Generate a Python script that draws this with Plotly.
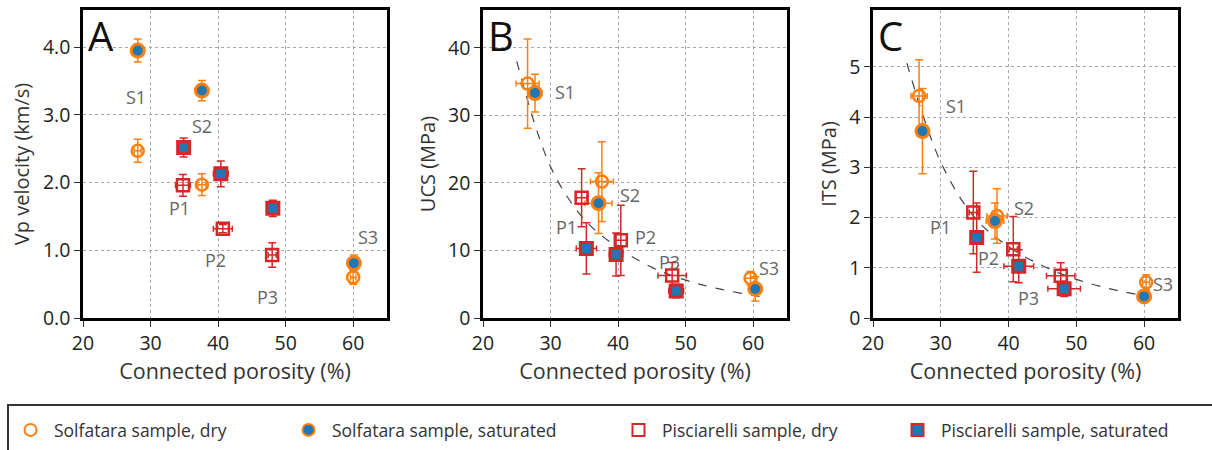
import plotly.graph_objects as go

# ---------------- DATA ----------------
# Panel A: Vp velocity (km/s)
A_sol_dry_x = [28.1, 37.6, 60.0]
A_sol_dry_y = [2.47, 1.97, 0.60]
A_sol_dry_xerr = [0.5, 0.6, 0.4]
A_sol_dry_yerr = [0.17, 0.16, 0.10]
A_sol_sat_x = [28.1, 37.6, 60.1]
A_sol_sat_y = [3.95, 3.36, 0.81]
A_sol_sat_xerr = [0.5, 0.6, 0.4]
A_sol_sat_yerr = [0.17, 0.15, 0.12]
A_pis_dry_x = [34.8, 40.7, 48.0]
A_pis_dry_y = [1.96, 1.32, 0.93]
A_pis_dry_xerr = [1.1, 1.4, 0.6]
A_pis_dry_yerr = [0.16, 0.06, 0.18]
A_pis_sat_x = [34.9, 40.4, 48.1]
A_pis_sat_y = [2.52, 2.13, 1.62]
A_pis_sat_xerr = [0.6, 1.1, 0.8]
A_pis_sat_yerr = [0.14, 0.19, 0.12]

# Panel B: UCS (MPa)
B_sol_dry_x = [26.6, 37.6, 59.6]
B_sol_dry_y = [34.7, 20.2, 5.9]
B_sol_dry_xerr = [1.7, 1.7, 0.8]
B_sol_dry_yerr = [6.6, 5.9, 1.0]
B_sol_sat_x = [27.7, 37.1, 60.3]
B_sol_sat_y = [33.3, 17.0, 4.3]
B_sol_sat_xerr = [1.0, 2.0, 0.9]
B_sol_sat_yerr = [2.8, 4.5, 1.8]
B_pis_dry_x = [34.6, 40.4, 48.0]
B_pis_dry_y = [17.8, 11.5, 6.3]
B_pis_dry_xerr = [0.8, 0.9, 2.1]
B_pis_dry_yerr = [4.3, 5.2, 1.9]
B_pis_sat_x = [35.3, 39.7, 48.6]
B_pis_sat_y = [10.3, 9.4, 4.0]
B_pis_sat_xerr = [1.5, 1.0, 1.1]
B_pis_sat_yerr = [3.8, 3.2, 1.0]

# Panel C: ITS (MPa)
C_sol_dry_x = [26.8, 38.3, 60.3]
C_sol_dry_y = [4.42, 2.03, 0.71]
C_sol_dry_xerr = [1.2, 1.5, 0.5]
C_sol_dry_yerr = [0.72, 0.54, 0.15]
C_sol_sat_x = [27.3, 38.0, 60.0]
C_sol_sat_y = [3.72, 1.93, 0.43]
C_sol_sat_xerr = [0.9, 1.3, 0.5]
C_sol_sat_yerr = [0.85, 0.36, 0.05]
C_pis_dry_x = [34.8, 40.7, 47.7]
C_pis_dry_y = [2.10, 1.37, 0.84]
C_pis_dry_xerr = [0.6, 0.6, 2.1]
C_pis_dry_yerr = [0.82, 0.65, 0.26]
C_pis_sat_x = [35.3, 41.5, 48.2]
C_pis_sat_y = [1.60, 1.03, 0.58]
C_pis_sat_xerr = [0.8, 2.2, 2.4]
C_pis_sat_yerr = [0.69, 0.33, 0.15]

# Fit curves
fit_B_x = [25, 30, 35, 40, 45, 50, 55, 62]
fit_B_y = [38.0, 22.4, 14.6, 10.4, 7.5, 5.6, 4.3, 3.0]
fit_C_x = [25, 30, 35, 40, 45, 50, 55, 60]
fit_C_y = [5.07, 3.10, 2.00, 1.42, 1.04, 0.77, 0.58, 0.44]

# Sample labels
lab_names = ["S1", "S2", "S3", "P1", "P2", "P3"]
A_lab_x = [27.8, 37.6, 62.2, 34.3, 39.6, 47.3]
A_lab_y = [3.27, 2.83, 1.20, 1.62, 0.86, 0.31]
B_lab_x = [32.1, 41.8, 62.3, 32.3, 44.0, 47.6]
B_lab_y = [33.4, 18.2, 7.4, 13.5, 12.0, 8.3]
C_lab_x = [32.2, 42.3, 62.8, 29.9, 37.0, 42.9]
C_lab_y = [4.21, 2.18, 0.67, 1.81, 1.20, 0.40]

series_names = ["Solfatara sample, dry", "Solfatara sample, saturated",
                "Pisciarelli sample, dry", "Pisciarelli sample, saturated"]
x_ticks = [20, 30, 40, 50, 60]
A_yticks = [0, 1, 2, 3, 4]
B_yticks = [0, 10, 20, 30, 40]
C_yticks = [0, 1, 2, 3, 4, 5]

# ---------------- STYLE ----------------
ORANGE = "#ff7f0e"
BLUE = "#1f77b4"
RED = "#d62728"
FONT = "Open Sans"
W, H = 1212, 450

fig = go.Figure()

styles = [
    dict(symbol="circle", color="rgba(0,0,0,0)", line=ORANGE, lw=2.5, size=12),
    dict(symbol="circle", color=BLUE, line=ORANGE, lw=3, size=13),
    dict(symbol="square", color="rgba(0,0,0,0)", line=RED, lw=2.5, size=12),
    dict(symbol="square", color=BLUE, line=RED, lw=3, size=12),
]

panels = [
    ("x", "y", [
        (A_sol_dry_x, A_sol_dry_y, A_sol_dry_xerr, A_sol_dry_yerr),
        (A_sol_sat_x, A_sol_sat_y, A_sol_sat_xerr, A_sol_sat_yerr),
        (A_pis_dry_x, A_pis_dry_y, A_pis_dry_xerr, A_pis_dry_yerr),
        (A_pis_sat_x, A_pis_sat_y, A_pis_sat_xerr, A_pis_sat_yerr)]),
    ("x2", "y2", [
        (B_sol_dry_x, B_sol_dry_y, B_sol_dry_xerr, B_sol_dry_yerr),
        (B_sol_sat_x, B_sol_sat_y, B_sol_sat_xerr, B_sol_sat_yerr),
        (B_pis_dry_x, B_pis_dry_y, B_pis_dry_xerr, B_pis_dry_yerr),
        (B_pis_sat_x, B_pis_sat_y, B_pis_sat_xerr, B_pis_sat_yerr)]),
    ("x3", "y3", [
        (C_sol_dry_x, C_sol_dry_y, C_sol_dry_xerr, C_sol_dry_yerr),
        (C_sol_sat_x, C_sol_sat_y, C_sol_sat_xerr, C_sol_sat_yerr),
        (C_pis_dry_x, C_pis_dry_y, C_pis_dry_xerr, C_pis_dry_yerr),
        (C_pis_sat_x, C_pis_sat_y, C_pis_sat_xerr, C_pis_sat_yerr)]),
]

# fit curves first (under markers)
fig.add_trace(go.Scatter(x=fit_B_x, y=fit_B_y, xaxis="x2", yaxis="y2", mode="lines",
                         line=dict(color="#444", width=1.2, dash="dash", shape="spline"),
                         showlegend=False, hoverinfo="skip"))
fig.add_trace(go.Scatter(x=fit_C_x, y=fit_C_y, xaxis="x3", yaxis="y3", mode="lines",
                         line=dict(color="#444", width=1.2, dash="dash", shape="spline"),
                         showlegend=False, hoverinfo="skip"))

legend_ids = ["legend", "legend2", "legend3", "legend4"]
for pi, (xa, ya, series) in enumerate(panels):
    for si, (sx, sy, sxe, sye) in enumerate(series):
        st = styles[si]
        fig.add_trace(go.Scatter(
            x=sx, y=sy, xaxis=xa, yaxis=ya, mode="markers",
            name=series_names[si],
            legend=legend_ids[si],
            showlegend=(pi == 0),
            marker=dict(symbol=st["symbol"], size=st["size"], color=st["color"],
                        line=dict(color=st["line"], width=st["lw"])),
            error_x=dict(type="data", array=sxe, visible=True, color=st["line"],
                         thickness=1.5, width=3),
            error_y=dict(type="data", array=sye, visible=True, color=st["line"],
                         thickness=1.5, width=4),
        ))

# ---------------- AXES ----------------
ybot = 1 - 318 / H
ytop = 1 - 10 / H
xdoms = [(83 / W, 387 / W), (483 / W, 787 / W), (873 / W, 1178 / W)]
yranges = [(0, 4.55), (0, 45.6), (0, 6.13)]
ytitles = ["Vp velocity (km/s)", "UCS (MPa)", "ITS (MPa)"]
yticks = [A_yticks, B_yticks, C_yticks]
yfmt = [".1f", "d", "d"]

axis_common = dict(
    showline=True, linecolor="black", linewidth=2.5, mirror=True,
    ticks="outside", ticklen=6, tickwidth=1.3, tickcolor="#333",
    showgrid=True, gridcolor="#a8a8a8", griddash="dot", gridwidth=1,
    zeroline=False, automargin=False,
    tickfont=dict(family=FONT, size=19.5, color="#222"),
)

layout_axes = {}
for i in range(3):
    sfx = "" if i == 0 else str(i + 1)
    layout_axes["xaxis" + sfx] = dict(
        axis_common, domain=list(xdoms[i]), range=[20, 65],
        tickmode="array", tickvals=x_ticks,
        anchor="y" + sfx,
        title=dict(text="Connected porosity (%)", font=dict(family=FONT, size=21.5, color="#333"),
                   standoff=8),
    )
    layout_axes["yaxis" + sfx] = dict(
        axis_common, domain=[ybot, ytop], range=list(yranges[i]),
        tickmode="array", tickvals=yticks[i], tickformat=yfmt[i],
        anchor="x" + sfx,
        title=dict(text=ytitles[i], font=dict(family=FONT, size=20, color="#333"),
                   standoff=8),
    )

# ---------------- ANNOTATIONS ----------------
annotations = []
for sfx, lx, ly in [("", A_lab_x, A_lab_y), ("2", B_lab_x, B_lab_y), ("3", C_lab_x, C_lab_y)]:
    for name, xx, yy in zip(lab_names, lx, ly):
        annotations.append(dict(x=xx, y=yy, xref="x" + sfx, yref="y" + sfx, text=name,
                                showarrow=False, font=dict(family=FONT, size=18, color="#666"),
                                xanchor="center", yanchor="middle"))

for letter, xl in zip(["A", "B", "C"], [xdoms[0][0], xdoms[1][0], xdoms[2][0]]):
    annotations.append(dict(x=xl + 3 / W, y=ytop + 4 / H, xref="paper", yref="paper",
                            text=letter, showarrow=False, xanchor="left", yanchor="top",
                            font=dict(family=FONT, size=40, color="#111")))

# ---------------- LEGEND ----------------
sym_x = [27, 305, 635, 914]
legends = {}
for lid, sx in zip(legend_ids, sym_x):
    legends[lid] = dict(x=(sx - 20) / W, y=1 - 430 / H, xanchor="left", yanchor="middle",
                        orientation="h", bgcolor="rgba(0,0,0,0)", borderwidth=0,
                        itemsizing="constant", itemwidth=37,
                        font=dict(family=FONT, size=17.5, color="#333"))

shapes = [dict(type="rect", xref="paper", yref="paper",
               x0=8 / W, x1=1.01, y0=-0.05, y1=1 - 405 / H,
               line=dict(color="#333", width=2), fillcolor="rgba(0,0,0,0)")]

fig.update_layout(
    width=W, height=H,
    margin=dict(l=0, r=0, t=0, b=0, autoexpand=False),
    paper_bgcolor="white", plot_bgcolor="white",
    font=dict(family=FONT),
    annotations=annotations,
    shapes=shapes,
    **layout_axes,
    **legends,
)

fig.write_html("out.html")
